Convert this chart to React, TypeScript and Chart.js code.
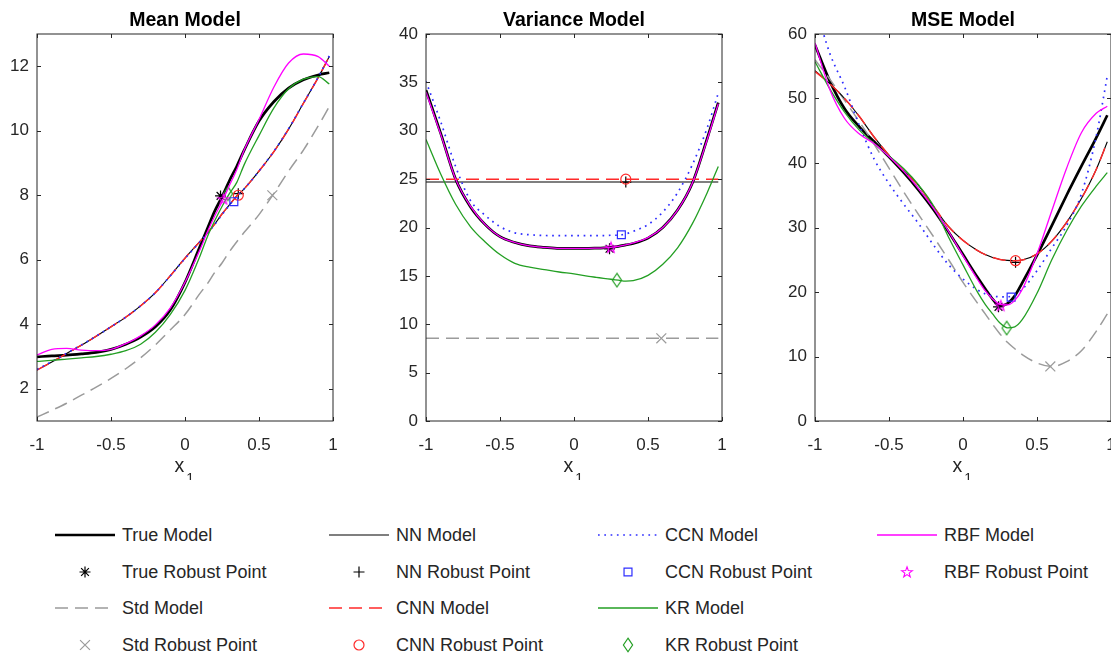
import { useEffect, useRef } from 'react';
import { Chart, registerables } from 'chart.js';

Chart.register(...registerables);

const FONT = "'Liberation Sans', Arial, Helvetica, sans-serif";
const INK = '#262626';

// Shared abscissa for every sampled model curve
const X_GRID = [-1, -0.9, -0.8, -0.7, -0.6, -0.5, -0.4, -0.3, -0.2, -0.1, 0, 0.1, 0.15, 0.2, 0.25, 0.3, 0.35, 0.4, 0.5, 0.6, 0.7, 0.8, 0.9, 0.975];
const X_TICKS = [-1, -0.5, 0, 0.5, 1];

// Mean model
const MEAN_Y_TICKS = [2, 4, 6, 8, 10, 12];
const MEAN_TRUE = [2.99, 3.02, 3.04, 3.08, 3.13, 3.22, 3.38, 3.6, 3.92, 4.44, 5.3, 6.4, 6.95, 7.5, 7.95, 8.45, 8.9, 9.4, 10.3, 10.9, 11.32, 11.58, 11.73, 11.8];
const MEAN_STD = [1.12, 1.33, 1.55, 1.8, 2.05, 2.32, 2.62, 2.96, 3.36, 3.82, 4.3, 4.95, 5.25, 5.6, 5.9, 6.25, 6.56, 6.85, 7.4, 8.05, 8.75, 9.4, 10.15, 10.75];
const MEAN_NN = [2.58, 2.83, 3.09, 3.35, 3.63, 3.92, 4.22, 4.57, 4.98, 5.5, 6.05, 6.56, 6.82, 7.1, 7.42, 7.7, 7.98, 8.2, 8.75, 9.35, 10.05, 10.85, 11.65, 12.3];
const MEAN_CNN = [2.58, 2.83, 3.09, 3.35, 3.63, 3.92, 4.22, 4.57, 4.98, 5.5, 6.05, 6.56, 6.82, 7.1, 7.42, 7.7, 7.98, 8.2, 8.75, 9.35, 10.05, 10.85, 11.65, 12.3];
const MEAN_CCN = [2.6, 2.84, 3.1, 3.36, 3.63, 3.92, 4.22, 4.57, 4.98, 5.5, 6.04, 6.55, 6.81, 7.09, 7.4, 7.69, 7.97, 8.2, 8.75, 9.36, 10.06, 10.86, 11.66, 12.32];
const MEAN_KR = [2.85, 2.88, 2.92, 2.96, 3.0, 3.07, 3.18, 3.38, 3.75, 4.3, 5.05, 6.1, 6.7, 7.2, 7.65, 8.05, 8.4, 8.95, 9.85, 10.7, 11.3, 11.6, 11.68, 11.45];
const MEAN_RBF = [3.05, 3.22, 3.25, 3.2, 3.18, 3.22, 3.4, 3.64, 3.98, 4.5, 5.3, 6.3, 6.85, 7.35, 7.8, 8.3, 8.8, 9.4, 10.35, 11.35, 12.1, 12.38, 12.3, 12.0];
// robust points, order: True, Std, NN, CNN, CCN, KR, RBF
const MEAN_ROBUST_X = [0.24, 0.59, 0.36, 0.36, 0.33, 0.29, 0.26];
const MEAN_ROBUST_Y = [7.98, 8.0, 8.05, 8.0, 7.8, 8.05, 7.88];

// Variance model
const VAR_Y_TICKS = [0, 5, 10, 15, 20, 25, 30, 35, 40];
const VAR_TRUE = [34.2, 29.7, 25.0, 22.15, 20.3, 19.05, 18.45, 18.1, 17.95, 17.85, 17.85, 17.85, 17.87, 17.9, 17.95, 18.05, 18.2, 18.35, 18.9, 20.0, 21.8, 24.6, 29.2, 32.9];
const VAR_STD_LEVEL = 8.55;
const VAR_NN_LEVEL = 24.7;
const VAR_CNN_LEVEL = 25.0;
const VAR_CCN = [35.1, 30.9, 26.3, 22.8, 21.25, 20.1, 19.45, 19.25, 19.18, 19.15, 19.15, 19.15, 19.15, 19.17, 19.2, 19.2, 19.35, 19.6, 20.3, 21.6, 23.6, 26.5, 30.3, 33.9];
const VAR_KR = [29.1, 25.5, 22.4, 20.1, 18.5, 17.2, 16.3, 15.9, 15.65, 15.4, 15.2, 14.95, 14.85, 14.75, 14.65, 14.55, 14.45, 14.5, 15.05, 16.2, 17.9, 20.4, 23.6, 26.3];
const VAR_RBF = [34.0, 29.6, 25.0, 22.2, 20.3, 19.05, 18.45, 18.1, 17.95, 17.85, 17.85, 17.85, 17.87, 17.9, 17.95, 18.05, 18.2, 18.4, 18.95, 20.0, 21.8, 24.6, 29.1, 32.8];
const VAR_ROBUST_X = [0.24, 0.59, 0.35, 0.35, 0.32, 0.29, 0.25];
const VAR_ROBUST_Y = [17.8, 8.55, 24.7, 25.0, 19.25, 14.55, 17.95];

// MSE model
const MSE_Y_TICKS = [0, 10, 20, 30, 40, 50, 60];
const MSE_TRUE = [58.3, 52.7, 48.4, 45.6, 43.3, 40.95, 38.5, 35.8, 32.8, 29.4, 25.8, 22.2, 20.5, 18.9, 17.85, 18.2, 19.4, 21.4, 25.7, 30.3, 35.0, 39.5, 43.9, 47.4];
const MSE_STD = [56.0, 53.0, 49.7, 46.4, 42.9, 39.2, 35.5, 32.0, 28.6, 25.1, 21.5, 18.2, 16.6, 15.0, 13.5, 12.2, 11.2, 10.3, 9.0, 8.45, 9.2, 10.9, 13.9, 16.6];
const MSE_NN = [54.3, 52.3, 50.0, 47.2, 44.0, 41.2, 38.8, 36.5, 33.3, 30.2, 28.0, 26.4, 25.8, 25.35, 25.05, 24.9, 24.85, 24.95, 25.9, 27.9, 30.8, 34.5, 39.0, 43.3];
const MSE_CNN = [54.2, 52.3, 50.0, 47.2, 44.0, 41.2, 38.8, 36.5, 33.3, 30.2, 28.0, 26.4, 25.8, 25.35, 25.05, 24.9, 24.85, 24.95, 25.9, 27.9, 30.8, 34.5, 39.0, 43.3];
const MSE_CCN = [64.5, 57.0, 51.8, 45.8, 40.6, 36.8, 33.6, 30.6, 27.3, 24.3, 22.0, 20.3, 19.7, 19.4, 19.25, 19.25, 19.6, 20.4, 23.3, 26.8, 30.3, 35.2, 44.1, 53.5];
const MSE_KR = [55.7, 51.5, 47.9, 45.1, 43.0, 41.1, 39.1, 36.6, 33.4, 28.6, 24.2, 19.9, 18.1, 16.6, 15.2, 14.45, 14.6, 15.7, 19.8, 25.0, 29.5, 33.3, 36.4, 38.5];
const MSE_RBF = [58.6, 51.4, 46.9, 44.5, 43.0, 41.0, 38.7, 36.0, 33.0, 29.5, 25.6, 21.9, 20.2, 18.9, 18.1, 18.0, 18.7, 20.4, 25.9, 32.6, 39.2, 44.7, 47.7, 48.8];
const MSE_ROBUST_X = [0.24, 0.59, 0.355, 0.355, 0.325, 0.295, 0.255];
const MSE_ROBUST_Y = [17.7, 8.45, 24.6, 24.85, 19.2, 14.4, 17.9];

type MarkerKind = 'star' | 'crossRot' | 'cross' | 'circle' | 'rect' | 'diamond' | 'pentagram';

interface ModelStyle {
  key: string;
  color: string;
  width: number;
  dash: number[];
  marker: MarkerKind;
  radius: number;
}

// Plot order: earlier models lie underneath later ones
const MODELS: ModelStyle[] = [
  { key: 'True', color: '#000000', width: 2.7, dash: [], marker: 'star', radius: 5.5 },
  { key: 'Std', color: '#9b9b9b', width: 1.5, dash: [13, 7], marker: 'crossRot', radius: 7 },
  { key: 'NN', color: '#000000', width: 1.1, dash: [], marker: 'cross', radius: 5.5 },
  { key: 'CNN', color: '#ff2a2a', width: 1.5, dash: [13, 7], marker: 'circle', radius: 5 },
  { key: 'CCN', color: '#2e2eff', width: 1.7, dash: [1.7, 4.6], marker: 'rect', radius: 5.6 },
  { key: 'KR', color: '#239f23', width: 1.3, dash: [], marker: 'diamond', radius: 6 },
  { key: 'RBF', color: '#ff00ff', width: 1.3, dash: [], marker: 'pentagram', radius: 6 },
];

type Curve = number[] | number;

interface PanelSpec {
  title: string;
  yMin: number;
  yMax: number;
  yTicks: number[];
  curves: Curve[];
  robustX: number[];
  robustY: number[];
}

const PANELS: PanelSpec[] = [
  {
    title: 'Mean Model', yMin: 1, yMax: 13, yTicks: MEAN_Y_TICKS,
    curves: [MEAN_TRUE, MEAN_STD, MEAN_NN, MEAN_CNN, MEAN_CCN, MEAN_KR, MEAN_RBF],
    robustX: MEAN_ROBUST_X, robustY: MEAN_ROBUST_Y,
  },
  {
    title: 'Variance Model', yMin: 0, yMax: 40, yTicks: VAR_Y_TICKS,
    curves: [VAR_TRUE, VAR_STD_LEVEL, VAR_NN_LEVEL, VAR_CNN_LEVEL, VAR_CCN, VAR_KR, VAR_RBF],
    robustX: VAR_ROBUST_X, robustY: VAR_ROBUST_Y,
  },
  {
    title: 'MSE Model', yMin: 0, yMax: 60, yTicks: MSE_Y_TICKS,
    curves: [MSE_TRUE, MSE_STD, MSE_NN, MSE_CNN, MSE_CCN, MSE_KR, MSE_RBF],
    robustX: MSE_ROBUST_X, robustY: MSE_ROBUST_Y,
  },
];

// Figure layout
const PANEL_LEFT = [0, 389, 778];
const CANVAS_W = 360;
const CANVAS_H = 480;
const Y_AXIS_W = 37;
const X_AXIS_H = 59;
const RIGHT_PAD = 27;
const TICK_LEN = 4;

const LEGEND_COL_X = [55, 329, 598, 877];
const LEGEND_ROW_Y = [535, 572, 608, 645];
const SAMPLE_W = 60;

function makeDiamond(color: string): HTMLCanvasElement {
  const c = document.createElement('canvas');
  c.width = 12;
  c.height = 16;
  const g = c.getContext('2d')!;
  g.strokeStyle = color;
  g.lineWidth = 1.2;
  g.beginPath();
  g.moveTo(6, 1.2);
  g.lineTo(10.6, 8);
  g.lineTo(6, 14.8);
  g.lineTo(1.4, 8);
  g.closePath();
  g.stroke();
  return c;
}

function makePentagram(color: string): HTMLCanvasElement {
  const c = document.createElement('canvas');
  c.width = 14;
  c.height = 14;
  const g = c.getContext('2d')!;
  g.strokeStyle = color;
  g.lineWidth = 1.1;
  g.beginPath();
  for (let k = 0; k < 10; k++) {
    const r = k % 2 === 0 ? 5.6 : 2.25;
    const a = -Math.PI / 2 + (k * Math.PI) / 5;
    const px = 7 + r * Math.cos(a);
    const py = 7.4 + r * Math.sin(a);
    if (k === 0) g.moveTo(px, py);
    else g.lineTo(px, py);
  }
  g.closePath();
  g.stroke();
  return c;
}

function drawMarker(
  g: CanvasRenderingContext2D,
  m: ModelStyle,
  x: number,
  y: number,
  images: Record<string, HTMLCanvasElement>
) {
  g.save();
  g.strokeStyle = m.color;
  g.lineWidth = 1.2;
  const r = m.radius;
  g.beginPath();
  if (m.marker === 'diamond' || m.marker === 'pentagram') {
    const im = images[m.marker];
    g.drawImage(im, x - im.width / 2, y - im.height / 2);
  } else if (m.marker === 'circle') {
    g.arc(x, y, r, 0, Math.PI * 2);
  } else if (m.marker === 'rect') {
    const s = r * Math.SQRT1_2;
    g.rect(x - s, y - s, 2 * s, 2 * s);
  } else {
    const segs: number[] = [];
    if (m.marker === 'cross' || m.marker === 'star') segs.push(0, Math.PI / 2);
    if (m.marker === 'crossRot' || m.marker === 'star') segs.push(Math.PI / 4, (3 * Math.PI) / 4);
    for (const a of segs) {
      const dx = Math.cos(a) * r;
      const dy = Math.sin(a) * r;
      g.moveTo(x - dx, y - dy);
      g.lineTo(x + dx, y + dy);
    }
  }
  g.stroke();
  g.restore();
}

// Box with inward tick marks on all four sides
const boxPlugin = {
  id: 'axisBox',
  afterDatasetsDraw(chart: any) {
    const { ctx, chartArea: a, scales } = chart;
    const xs = scales.x;
    const ys = scales.y;
    ctx.save();
    ctx.strokeStyle = INK;
    ctx.lineWidth = 1;
    ctx.strokeRect(a.left, a.top, a.right - a.left, a.bottom - a.top);
    ctx.beginPath();
    for (const t of xs.ticks) {
      const px = Math.round(xs.getPixelForValue(t.value)) + 0.5;
      ctx.moveTo(px, a.bottom);
      ctx.lineTo(px, a.bottom - TICK_LEN);
      ctx.moveTo(px, a.top);
      ctx.lineTo(px, a.top + TICK_LEN);
    }
    for (const t of ys.ticks) {
      const py = Math.round(ys.getPixelForValue(t.value)) + 0.5;
      ctx.moveTo(a.left, py);
      ctx.lineTo(a.left + TICK_LEN, py);
      ctx.moveTo(a.right, py);
      ctx.lineTo(a.right - TICK_LEN, py);
    }
    ctx.stroke();
    ctx.restore();
  },
};

// x-axis label: x with subscript 1
const xLabelPlugin = {
  id: 'xSubLabel',
  afterDraw(chart: any) {
    const { ctx, chartArea: a } = chart;
    const cx = (a.left + a.right) / 2;
    ctx.save();
    ctx.fillStyle = INK;
    ctx.textBaseline = 'alphabetic';
    ctx.textAlign = 'left';
    ctx.font = `19.5px ${FONT}`;
    const wx = ctx.measureText('x').width;
    ctx.font = `14px ${FONT}`;
    const w1 = ctx.measureText('1').width;
    const x0 = cx - (wx + 1.5 + w1) / 2 - 1;
    ctx.font = `19.5px ${FONT}`;
    ctx.fillText('x', x0, a.bottom + 51);
    ctx.font = `14px ${FONT}`;
    ctx.fillText('1', x0 + wx + 2, a.bottom + 61.5);
    ctx.restore();
  },
};

function buildConfig(p: PanelSpec, images: Record<string, HTMLCanvasElement>): any {
  const datasets: any[] = [];
  MODELS.forEach((m, i) => {
    const c = p.curves[i];
    const data = Array.isArray(c)
      ? X_GRID.map((x, k) => ({ x, y: c[k] }))
      : [{ x: X_GRID[0], y: c }, { x: X_GRID[X_GRID.length - 1], y: c }];
    datasets.push({
      label: `${m.key} Model`,
      data,
      borderColor: m.color,
      borderWidth: m.width,
      borderDash: m.dash,
      borderCapStyle: 'butt',
      pointRadius: 0,
      fill: false,
      cubicInterpolationMode: 'monotone',
    });
    const style =
      m.marker === 'diamond' || m.marker === 'pentagram' ? images[m.marker] : m.marker;
    datasets.push({
      label: `${m.key} Robust Point`,
      data: [{ x: p.robustX[i], y: p.robustY[i] }],
      showLine: false,
      pointStyle: style,
      pointRadius: m.radius,
      pointBorderColor: m.color,
      pointBackgroundColor: 'rgba(0,0,0,0)',
      pointBorderWidth: 1.2,
    });
  });
  datasets.forEach((d, k) => (d.order = datasets.length - k));

  const tickFont = { family: FONT, size: 17 };
  return {
    type: 'line',
    data: { datasets },
    options: {
      responsive: false,
      animation: false,
      devicePixelRatio: 1,
      events: [],
      layout: { padding: { left: 0, right: RIGHT_PAD, top: 0, bottom: 0 } },
      plugins: {
        legend: { display: false },
        tooltip: { enabled: false },
        title: {
          display: true,
          text: p.title,
          fullSize: false,
          color: '#000',
          font: { family: FONT, size: 19.5, weight: 'bold', lineHeight: 1.2 },
          padding: { top: 8.5, bottom: 2.1 },
        },
      },
      scales: {
        x: {
          type: 'linear',
          min: -1,
          max: 1,
          grid: { display: false, drawTicks: false },
          border: { display: false },
          ticks: {
            color: INK,
            font: tickFont,
            padding: 14.5,
            maxRotation: 0,
            autoSkip: false,
            callback: (v: number) => String(v),
          },
          afterBuildTicks: (s: any) => {
            s.ticks = X_TICKS.map((v) => ({ value: v }));
          },
          afterFit: (s: any) => {
            s.height = X_AXIS_H;
          },
        },
        y: {
          type: 'linear',
          min: p.yMin,
          max: p.yMax,
          grid: { display: false, drawTicks: false },
          border: { display: false },
          ticks: {
            color: INK,
            font: tickFont,
            padding: 8,
            autoSkip: false,
            callback: (v: number) => String(v),
          },
          afterBuildTicks: (s: any) => {
            s.ticks = p.yTicks.map((v) => ({ value: v }));
          },
          afterFit: (s: any) => {
            s.width = Y_AXIS_W;
          },
        },
      },
    },
    plugins: [boxPlugin, xLabelPlugin],
  };
}

interface LegendEntry {
  label: string;
  model: ModelStyle;
  isLine: boolean;
}

const LEGEND: LegendEntry[] = MODELS.flatMap((m) => [
  { label: `${m.key} Model`, model: m, isLine: true },
  { label: `${m.key} Robust Point`, model: m, isLine: false },
]);

export default function App() {
  const canvases = useRef<(HTMLCanvasElement | null)[]>([]);
  const samples = useRef<(HTMLCanvasElement | null)[]>([]);

  useEffect(() => {
    const images: Record<string, HTMLCanvasElement> = {
      diamond: makeDiamond(MODELS[5].color),
      pentagram: makePentagram(MODELS[6].color),
    };
    const charts = PANELS.map((p, i) => new Chart(canvases.current[i]!, buildConfig(p, images)));

    LEGEND.forEach((e, k) => {
      const cv = samples.current[k];
      if (!cv) return;
      const g = cv.getContext('2d')!;
      g.clearRect(0, 0, cv.width, cv.height);
      const cy = cv.height / 2;
      if (e.isLine) {
        g.strokeStyle = e.model.color;
        g.lineWidth = e.model.width;
        g.setLineDash(e.model.dash);
        g.beginPath();
        g.moveTo(0, cy);
        g.lineTo(cv.width, cy);
        g.stroke();
      } else {
        drawMarker(g, e.model, cv.width / 2, cy, images);
      }
    });

    return () => charts.forEach((c) => c.destroy());
  }, []);

  return (
    <div
      style={{
        position: 'absolute',
        left: 0,
        top: 0,
        width: 1111,
        height: 658,
        overflow: 'hidden',
        background: '#fff',
      }}
    >
      {PANELS.map((p, i) => (
        <canvas
          key={p.title}
          ref={(el) => {
            canvases.current[i] = el;
          }}
          width={CANVAS_W}
          height={CANVAS_H}
          style={{ position: 'absolute', left: PANEL_LEFT[i], top: 0, width: CANVAS_W, height: CANVAS_H }}
        />
      ))}
      {LEGEND.map((e, k) => {
        const col = Math.floor(k / 4);
        const row = k % 4;
        const x = LEGEND_COL_X[col];
        const y = LEGEND_ROW_Y[row];
        return (
          <div key={e.label}>
            <canvas
              ref={(el) => {
                samples.current[k] = el;
              }}
              width={SAMPLE_W}
              height={20}
              style={{ position: 'absolute', left: x, top: y - 10, width: SAMPLE_W, height: 20 }}
            />
            <span
              style={{
                position: 'absolute',
                left: x + 67,
                top: y - 11,
                lineHeight: '22px',
                fontSize: 18,
                fontFamily: FONT,
                color: INK,
                whiteSpace: 'nowrap',
              }}
            >
              {e.label}
            </span>
          </div>
        );
      })}
    </div>
  );
}
